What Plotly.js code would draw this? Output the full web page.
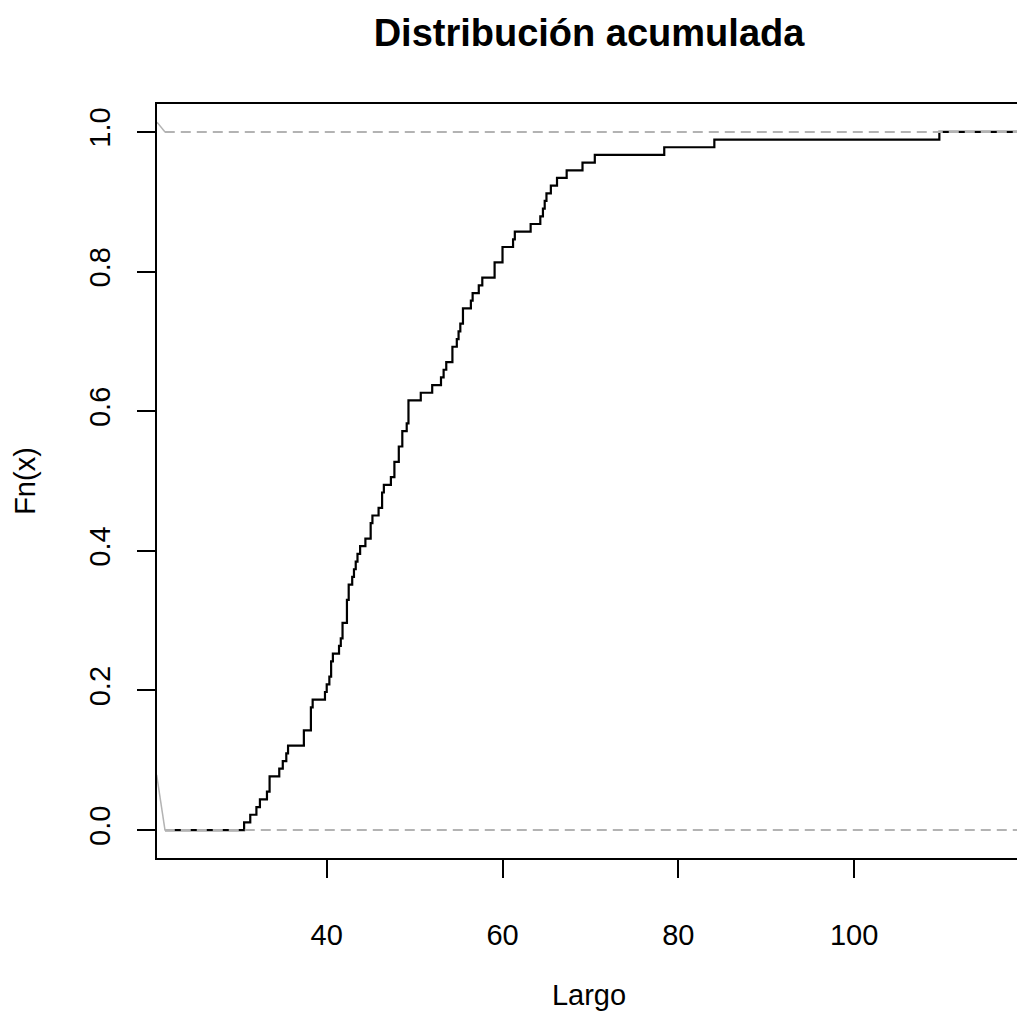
<!DOCTYPE html>
<html>
<head>
<meta charset="utf-8">
<script src="https://cdn.plot.ly/plotly-3.0.1.min.js"></script>
<style>
  html, body { margin: 0; padding: 0; overflow: hidden; background: #ffffff; }
  #chart { width: 1060px; height: 1011px; }
</style>
</head>
<body>
<div id="chart"></div>
<script>
// Sample values of "Largo" (read from the empirical CDF, repeats = ties)
const largo = [
  30.6, 31.3, 32.0, 32.4, 33.2, 33.5, 33.5, 34.6, 35.0, 35.4, 35.6,
  37.4, 37.4, 38.2, 38.2, 38.2, 38.4, 39.8, 40.0, 40.3, 40.5, 40.5, 40.7,
  41.4, 41.6, 41.8, 41.8, 42.3, 42.3, 42.3, 42.5, 42.5, 42.9, 43.1, 43.3,
  43.5, 43.8, 44.4, 45.0, 45.0, 45.2, 45.9, 46.3, 46.3, 46.5, 47.3,
  47.7, 47.7, 48.2, 48.2, 48.6, 48.6, 49.1, 49.3, 49.3, 49.3,
  50.7, 52.0, 53.0, 53.3, 53.6, 54.3, 54.3, 54.8, 55.0, 55.2, 55.5, 55.5,
  56.4, 56.6, 57.3, 57.7, 59.1, 59.1, 60.0, 60.0, 61.2, 61.4, 63.2,
  64.3, 64.6, 64.8, 65.0, 65.5, 66.2, 67.3, 69.1, 70.5, 78.4, 84.1, 109.7
];

// Axis ticks and labels
const xTicks = [40, 60, 80, 100];
const xTickText = ["40", "60", "80", "100"];
const yTicks = [0, 0.2, 0.4, 0.6, 0.8, 1.0];
const yTickText = ["0.0", "0.2", "0.4", "0.6", "0.8", "1.0"];
const refLevels = [0, 1];

// Light grey edge strokes at the left border of the panel
const edgeTopX = [20.69, 21.6];
const edgeTopY = [1.014, 1.0];
const edgeBotX = [20.65, 21.6];
const edgeBotY = [0.079, 0.0];

const xRange = [20.69, 118.99];
const yRange = [-0.04, 1.04];

// Build the empirical CDF from the sample
const sorted = largo.slice().sort((a, b) => a - b);
const n = sorted.length;
const ex = [xRange[0] + 0.9], ey = [0];
let cum = 0;
for (let i = 0; i < n; i++) {
  cum++;
  if (i === n - 1 || sorted[i + 1] !== sorted[i]) {
    ex.push(sorted[i]);
    ey.push(cum / n);
  }
}
ex.push(xRange[1] + 5);
ey.push(1);

const font = "Liberation Sans, Arial, Helvetica, sans-serif";

const traces = [
  {
    x: ex, y: ey, type: "scatter", mode: "lines",
    line: { shape: "hv", color: "#000000", width: 2.2 },
    hoverinfo: "skip", showlegend: false
  },
  {
    x: edgeTopX, y: edgeTopY, type: "scatter", mode: "lines",
    line: { color: "#b3b3b3", width: 1.5 }, hoverinfo: "skip", showlegend: false
  },
  {
    x: edgeBotX, y: edgeBotY, type: "scatter", mode: "lines",
    line: { color: "#b3b3b3", width: 1.5 }, hoverinfo: "skip", showlegend: false
  }
];

const shapes = refLevels.map(v => ({
  type: "line", xref: "paper", yref: "y",
  x0: 0.009, x1: 1, y0: v, y1: v, layer: "above",
  line: { color: "#b3b3b3", width: 2, dash: "10px,6px" }
}));

const layout = {
  width: 1060, height: 1011,
  margin: { l: 157, r: 39, t: 104, b: 153 },
  paper_bgcolor: "#ffffff", plot_bgcolor: "#ffffff",
  font: { family: font, color: "#000000", size: 29 },
  title: {
    text: "<b>Distribución acumulada</b>",
    font: { family: font, size: 38, color: "#000000" },
    xref: "paper", x: 0.5, xanchor: "center",
    yref: "container", y: 0.968, yanchor: "middle"
  },
  xaxis: {
    range: xRange, autorange: false,
    tickmode: "array", tickvals: xTicks, ticktext: xTickText,
    ticks: "outside", ticklen: 18, tickwidth: 2, tickcolor: "#000000",
    showline: true, linecolor: "#000000", linewidth: 2, mirror: true,
    showgrid: false, zeroline: false,
    tickfont: { size: 29 }, ticklabelstandoff: 32,
    title: { text: "Largo", font: { size: 29 }, standoff: 47 }
  },
  yaxis: {
    range: yRange, autorange: false,
    tickmode: "array", tickvals: yTicks, ticktext: yTickText,
    ticks: "outside", ticklen: 18, tickwidth: 2, tickcolor: "#000000",
    showline: true, linecolor: "#000000", linewidth: 2, mirror: true,
    showgrid: false, zeroline: false,
    tickangle: -90, tickfont: { size: 29 }, ticklabelstandoff: 15,
    title: { text: "Fn(x)", font: { size: 29 }, standoff: 40 }
  },
  shapes: shapes,
  showlegend: false
};

Plotly.newPlot("chart", traces, layout, { displayModeBar: false, staticPlot: true });
</script>
</body>
</html>
